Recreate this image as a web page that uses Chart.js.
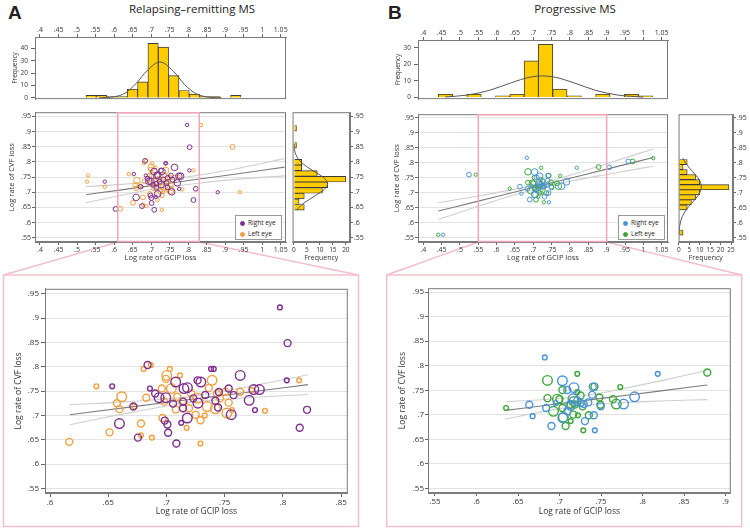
<!DOCTYPE html>
<html>
<head>
<meta charset="utf-8">
<script src="https://cdn.jsdelivr.net/npm/chart.js@4.4.1/dist/chart.umd.min.js"></script>
<style>
  body { margin: 0; background: #fff; }
  #fig { position: relative; width: 750px; height: 532px; overflow: hidden; font-family: 'Open Sans', sans-serif; color: #222; }
  #fig canvas { position: absolute; }
  .lab { position: absolute; white-space: nowrap; }
  .letter { font-family: 'Liberation Sans', Arial, sans-serif; font-weight: bold; font-size: 19px; }
  .ttl { font-size: 11.5px; transform: translateX(-50%); }
  .leg { position: absolute; background: #fff; border: 1px solid #9a9a9a; font-size: 6.5px; line-height: 11px; padding: 1px 0 0 4px; box-sizing: border-box; }
  .leg span { display: inline-block; width: 3px; height: 3px; border-radius: 50%; border: 1px solid; margin-right: 3px; vertical-align: middle; }
</style>
</head>
<body>
<div id="fig">
  <svg width="750" height="532" style="position:absolute;left:0;top:0">
    <g fill="none" stroke="#f4bccb" stroke-width="1.4">
      <rect x="3.5" y="275" width="355" height="251.5"/>
      <rect x="386.7" y="275" width="355" height="251.5"/>
      <line x1="118" y1="242" x2="3.5" y2="275"/>
      <line x1="199.5" y1="242" x2="358.5" y2="275"/>
      <line x1="478.5" y1="242" x2="386.7" y2="275"/>
      <line x1="606.5" y1="242" x2="741.7" y2="275"/>
    </g>
  </svg>
  <div class="lab letter" style="left:8px;top:2px">A</div>
  <div class="lab ttl" style="left:192px;top:1px">Relapsing–remitting MS</div>
  <div class="lab letter" style="left:388px;top:2px">B</div>
  <div class="lab ttl" style="left:575px;top:1px">Progressive MS</div>
</div>
<script>
Chart.defaults.font.family = "'Open Sans', sans-serif";
Chart.defaults.color = '#333';
Chart.defaults.animation = false;
Chart.defaults.events = [];
Chart.defaults.plugins.legend.display = false;
Chart.defaults.plugins.tooltip.enabled = false;

// ---- A: relapsing-remitting MS  [GCIP rate, CVF rate, marker weight]
const rrRightEye = [
  [0.7974,0.9218,1],[0.804,0.8485,2],[0.8033,0.772,1],[0.8144,0.6745,2],[0.8207,0.7114,2],
  [0.776,0.711,1],[0.771,0.731,3],[0.7798,0.753,3],[0.775,0.753,3],[0.7633,0.782,3],
  [0.7556,0.7014,3],[0.7576,0.7417,2],[0.7534,0.7551,2],[0.7443,0.7162,2],[0.7406,0.7954,1],
  [0.7383,0.7954,1],[0.742,0.730,2],[0.7267,0.772,2],[0.7295,0.7686,3],[0.727,0.725,3],
  [0.7179,0.6946,3],[0.715,0.755,3],[0.718,0.757,3],[0.7142,0.7148,2],[0.7145,0.7282,2],
  [0.7127,0.6846,1],[0.7079,0.7686,3],[0.7056,0.7242,2],[0.7014,0.6644,2],[0.7008,0.6812,2],
  [0.7085,0.6422,2],[0.6985,0.6893,2],[0.6994,0.7363,3],[0.6937,0.7363,3],[0.6903,0.745,2],
  [0.6858,0.7551,1],[0.6755,0.6543,2],[0.6838,0.8035,2],[0.6716,0.7182,2],[0.6596,0.6832,3],
  [0.6534,0.7598,1],[0.7333,0.742,2],[0.745,0.748,2],[0.723,0.735,2],[0.88,0.70,1],
  [0.575,0.735,1],[0.604,0.645,2]
];
const rrLeftEye = [
  [0.6165,0.6456,2],[0.6398,0.7598,1],[0.6616,0.7383,3],[0.6574,0.7249,2],[0.6596,0.7128,2],
  [0.6511,0.6651,2],[0.6724,0.7182,1],[0.6781,0.6832,2],[0.6781,0.659,1],[0.6875,0.6543,1],
  [0.6826,0.7363,2],[0.6804,0.7954,1],[0.6866,0.8035,1],[0.696,0.7551,2],[0.698,0.7282,2],
  [0.6966,0.6946,2],[0.7003,0.782,3],[0.7028,0.7954,1],[0.7042,0.7551,3],[0.7116,0.782,1],
  [0.7093,0.7383,2],[0.7173,0.6745,1],[0.7193,0.7148,2],[0.725,0.7014,2],[0.7292,0.69,2],
  [0.7292,0.6422,1],[0.7329,0.70,1],[0.7349,0.7182,3],[0.7392,0.772,3],[0.7363,0.7565,2],
  [0.7434,0.745,2],[0.742,0.7134,3],[0.7505,0.7484,2],[0.7519,0.7047,3],[0.7562,0.711,1],
  [0.7534,0.7262,2],[0.7733,0.7518,1],[0.7846,0.7094,1],[0.8139,0.772,1],[0.7213,0.745,2],
  [0.727,0.735,3],[0.7633,0.7484,2],[0.7136,0.7282,2],[0.6995,0.775,2],[0.708,0.712,2],
  [0.746,0.735,2],[0.53,0.755,1],[0.527,0.735,1],[0.575,0.718,1],[0.835,0.922,1],
  [0.92,0.85,2],[0.94,0.70,1]
];
const rrZoom = [0.61, 0.83];
const rrGcipBins = [0.538,0.5659,0.5938,0.6217,0.6496,0.6775,0.7054,0.7333,0.7612,0.7891,0.817,0.8449,0.8728,0.9007,0.9286];
const rrGcipFreq = [2,2,1,1,7,13,44,41,18,6,3,1,1,0,2];
const rrGcipCurveX = [0.56,0.6,0.63,0.66,0.69,0.724,0.76,0.79,0.82,0.85,0.89];
const rrGcipCurveY = [0.1,0.9,3.9,11.8,22.3,29,21.6,10.9,3.6,0.8,0.1];
const rrCvfBins = [0.6503,0.6689,0.6875,0.7061,0.7247,0.7433,0.7619,0.7805,0.7991,0.8177,0.8363,0.8549,0.8735,0.8921,0.9107];
const rrCvfFreq = [4,2,4,11,13,20,9,3,3,0,0,1,0,0,1];
const rrCvfCurveY = [0.641,0.66,0.69,0.71,0.728,0.75,0.77,0.80,0.83,0.86];
const rrCvfCurveF = [1.1,3.2,8.4,11.8,13,11.2,7.5,2.7,0.5,0.06];
const rrFitX = [0.524,0.62,0.72,0.82,0.94,1.06];
const rrFit = [0.692,0.708,0.725,0.742,0.762,0.783];
const rrFitHi = [0.719,0.726,0.737,0.755,0.780,0.811];
const rrFitLo = [0.665,0.690,0.713,0.729,0.744,0.754];
const rrZoomFitX = [0.617,0.67,0.72,0.77,0.8215];
const rrZoomFit = [0.7014,0.7174,0.7325,0.7476,0.7632];
const rrZoomFitHi = [0.7219,0.7287,0.7385,0.7589,0.7835];
const rrZoomFitLo = [0.6809,0.7061,0.7265,0.7363,0.7429];

// ---- B: progressive MS
const pRightEye = [
  [0.6823,0.8169,1],[0.8183,0.7834,1],[0.7904,0.7366,3],[0.7772,0.7219,3],[0.7497,0.7172,2],
  [0.7413,0.699,2],[0.7425,0.6683,1],[0.7306,0.6871,2],[0.7401,0.7573,2],[0.7393,0.7406,2],
  [0.7346,0.7252,2],[0.7174,0.7553,3],[0.7035,0.7694,3],[0.7094,0.7506,2],[0.7162,0.7326,3],
  [0.7134,0.7192,3],[0.7094,0.7071,2],[0.7039,0.6938,3],[0.6903,0.6771,2],[0.6839,0.7138,2],
  [0.6676,0.6971,1],[0.6636,0.7205,2],[0.6955,0.7239,1],[0.7254,0.7239,2],[0.7214,0.7293,2],
  [0.7292,0.7219,2],[0.4545,0.56,1],[0.5245,0.7606,2],[0.907,0.7846,2],[0.959,0.8044,2]
];
const pLeftEye = [
  [0.6357,0.7138,1],[0.6855,0.77,3],[0.6855,0.7339,2],[0.6975,0.7319,3],[0.6927,0.7071,3],
  [0.7035,0.7506,2],[0.7047,0.6951,3],[0.7074,0.6771,2],[0.7035,0.7138,2],[0.7134,0.6871,1],
  [0.7166,0.7004,2],[0.7214,0.7834,1],[0.7214,0.746,1],[0.7222,0.699,1],[0.7278,0.7172,2],
  [0.7254,0.7393,2],[0.7286,0.6683,1],[0.7353,0.699,2],[0.7421,0.7573,2],[0.7481,0.7352,2],
  [0.7493,0.7205,2],[0.7644,0.7319,2],[0.7684,0.7219,3],[0.7732,0.7566,1],[0.878,0.7861,2],
  [0.7174,0.7272,3],[0.7134,0.7205,2],[0.70,0.7318,2],[0.7186,0.721,2],[0.441,0.56,1],
  [0.543,0.7606,1],[0.971,0.8044,2],[1.027,0.8154,1]
];
const pZoom = [0.55, 0.90];
const pGcipBins = [0.4605,0.4995,0.5385,0.5775,0.6165,0.6555,0.6945,0.7335,0.7725,0.8115,0.8505,0.8895,0.9285,0.9675,1.0065];
const pGcipFreq = [2,0,2,0,1,2,22,32,5,1,0,2,0,2,1];
const pGcipCurveX = [0.46,0.52,0.58,0.64,0.69,0.725,0.76,0.81,0.87,0.93,1.0];
const pGcipCurveY = [0.34,1.5,4.3,8.9,12.2,13,12.2,8.9,4.3,1.5,0.25];
const pCvfBins = [0.5674,0.5842,0.601,0.6178,0.6346,0.6514,0.6682,0.685,0.7018,0.7186,0.7354,0.7522,0.769,0.7858,0.8026];
const pCvfFreq = [2,0,0,0,0,4,6,8,10,24,10,8,4,2,4];
const pCvfCurveY = [0.56,0.59,0.62,0.65,0.68,0.70,0.72,0.74,0.76,0.78,0.80,0.815];
const pCvfCurveF = [0.08,0.4,1.6,4.2,8.0,10.0,10.8,10.0,8.0,5.4,3.2,1.9];
const pFitX = [0.441,0.55,0.65,0.72,0.8,0.9,1.027];
const pFit = [0.639,0.6722,0.7027,0.724,0.7484,0.7789,0.8176];
const pFitHi = [0.667,0.6892,0.7122,0.731,0.7582,0.7966,0.8464];
const pFitLo = [0.611,0.6552,0.6932,0.717,0.7386,0.7612,0.7888];
const pZoomFitX = [0.6353,0.68,0.72,0.76,0.82,0.878];
const pZoomFit = [0.709,0.7185,0.727,0.7355,0.7483,0.7606];
const pZoomFitHi = [0.7268,0.7306,0.7368,0.7476,0.7686,0.7903];
const pZoomFitLo = [0.6912,0.7064,0.7172,0.7234,0.728,0.7309];

const COLORS = { purple: '#7d2e8e', orange: '#f0a03e', blue: '#4a93dc', green: '#3ea63a' };
const MAIN_R = [1.7, 2.4, 3.3];
const ZOOM_R = [2.4, 3.5, 4.8];

const fig = document.getElementById('fig');
const fmt = v => String(+(+v).toFixed(3)).replace(/^0\./, '.');

Chart.register({
  id: 'frame',
  afterDraw(chart, args, opts) {
    const { ctx, chartArea: a } = chart;
    ctx.save();
    ctx.strokeStyle = '#7a7a7a';
    ctx.lineWidth = 1;
    ctx.strokeRect(a.left + 0.5, a.top + 0.5, a.width - 1, a.height - 1);
    if (opts.zoom) {
      const xs = chart.scales.x;
      const x0 = xs.getPixelForValue(opts.zoom[0]), x1 = xs.getPixelForValue(opts.zoom[1]);
      ctx.strokeStyle = '#f3a6b8';
      ctx.lineWidth = 1.5;
      ctx.strokeRect(x0, a.top + 0.5, x1 - x0, a.height - 1);
    }
    ctx.restore();
  }
});

function mount(plot, ext) {
  const cv = document.createElement('canvas');
  cv.width = plot[2] - plot[0] + ext.l + ext.r;
  cv.height = plot[3] - plot[1] + ext.t + ext.b;
  cv.style.left = (plot[0] - ext.l) + 'px';
  cv.style.top = (plot[1] - ext.t) + 'px';
  fig.appendChild(cv);
  return cv;
}

function lin(pos, min, max, step, size, o = {}) {
  const vertical = pos === 'left' || pos === 'right';
  return {
    type: 'linear', position: pos, min, max, offset: false,
    afterFit: s => { if (vertical) s.width = size; else s.height = size; },
    border: { display: true, color: '#7a7a7a', width: 1 },
    grid: { display: true, drawOnChartArea: !!o.grid, color: '#e3e3e3', tickColor: '#666', tickLength: o.tl || 3, offset: false },
    ticks: { stepSize: step, autoSkip: false, includeBounds: false, maxRotation: 0, minRotation: 0,
             padding: o.pad ?? 1, color: '#333', font: { size: o.fs || 7 }, callback: o.fmt || fmt },
    title: { display: !!o.title, text: o.title || '', color: '#333', font: { size: o.ts || 7.5 }, padding: 0 }
  };
}

function bubbles(list, color, radii, bw, range) {
  return {
    type: 'bubble',
    data: list.filter(p => !range || (p[0] >= range[0] && p[0] <= range[1]))
              .map(p => ({ x: p[0], y: p[1], r: radii[p[2] - 1] })),
    borderColor: color, backgroundColor: 'rgba(0,0,0,0)', borderWidth: bw, order: 1
  };
}

function fitLines(xs, mid, hi, lo) {
  const line = (ys, c) => ({
    type: 'line', data: xs.map((x, i) => ({ x, y: ys[i] })), borderColor: c, borderWidth: 1.1,
    pointRadius: 0, cubicInterpolationMode: 'monotone', fill: false, order: 2
  });
  return [line(hi, '#cfcfcf'), line(lo, '#cfcfcf'), line(mid, '#7c7c7c')];
}

function scatter(c) {
  const cv = mount(c.plot, c.ext);
  return new Chart(cv, {
    type: 'bubble',
    data: { datasets: c.sets },
    options: {
      responsive: false,
      layout: { padding: { left: c.padL, top: c.ext.t, right: c.ext.r, bottom: 0 } },
      scales: {
        x: lin('bottom', c.xr[0], c.xr[1], 0.05, c.ext.b, { title: 'Log rate of GCIP loss', fs: c.fs, ts: c.ts, tl: c.tl }),
        y: lin('left', c.yr[0], c.yr[1], 0.05, c.ext.l - c.padL, { title: 'Log rate of CVF loss', grid: true, fs: c.fs, ts: c.ts, tl: c.tl, pad: c.pad })
      },
      plugins: { frame: { zoom: c.zoom } }
    }
  });
}

function topHist(c) {
  const cv = mount(c.plot, c.ext);
  return new Chart(cv, {
    type: 'bar',
    data: { datasets: [
      { type: 'line', data: c.curveX.map((x, i) => ({ x, y: c.curveY[i] })), borderColor: '#555', borderWidth: 1,
        pointRadius: 0, cubicInterpolationMode: 'monotone', fill: false, order: 0 },
      { type: 'bar', data: c.bins.map((x, i) => ({ x, y: c.freq[i] })), backgroundColor: '#ffcc00',
        borderColor: '#3a3a3a', borderWidth: 0.9, barPercentage: 1, categoryPercentage: 1, order: 1 }
    ] },
    options: {
      responsive: false,
      layout: { padding: { left: c.padL, top: 0, right: c.ext.r, bottom: c.ext.b } },
      scales: {
        x: lin('top', c.xr[0], c.xr[1], 0.05, c.ext.t, { pad: 0 }),
        y: lin('left', c.yr[0], c.yr[1], 10, c.ext.l - c.padL, { title: 'Frequency', ts: 6.5, fs: 6.5, tl: 4, pad: 3, fmt: v => v })
      }
    }
  });
}

function sideHist(c) {
  const cv = mount(c.plot, c.ext);
  return new Chart(cv, {
    type: 'bar',
    data: { datasets: [
      { type: 'line', data: c.curveY.map((y, i) => ({ x: c.curveF[i], y })), borderColor: '#555', borderWidth: 1,
        pointRadius: 0, cubicInterpolationMode: 'monotone', fill: false, order: 0 },
      { type: 'bar', data: c.bins.map((y, i) => ({ x: c.freq[i], y })), backgroundColor: '#ffcc00',
        borderColor: '#3a3a3a', borderWidth: 0.9, barPercentage: 1, categoryPercentage: 1, order: 1 }
    ] },
    options: {
      responsive: false,
      indexAxis: 'y',
      layout: { padding: { left: c.ext.l, top: c.ext.t, right: 0, bottom: 0 } },
      scales: {
        x: lin('bottom', c.xr[0], c.xr[1], 5, c.ext.b, { title: 'Frequency', fs: 6.5, ts: 7, fmt: v => v }),
        y: lin('right', c.yr[0], c.yr[1], 0.05, c.ext.r)
      }
    }
  });
}

// ---- panel A
topHist({ plot: [35, 37, 286, 104], ext: { l: 35, t: 16, r: 6, b: 2 }, padL: 11,
  xr: [0.3865, 1.0643], yr: [-0.97, 49.2], bins: rrGcipBins, freq: rrGcipFreq, curveX: rrGcipCurveX, curveY: rrGcipCurveY });
scatter({ plot: [35, 111, 286, 242], ext: { l: 35, t: 4, r: 5, b: 20 }, padL: 7,
  xr: [0.3865, 1.0643], yr: [0.536, 0.964], zoom: rrZoom, fs: 7, ts: 7.5,
  sets: [bubbles(rrRightEye, COLORS.purple, MAIN_R, 1), bubbles(rrLeftEye, COLORS.orange, MAIN_R, 1),
         ...fitLines(rrFitX, rrFit, rrFitHi, rrFitLo)] });
sideHist({ plot: [292, 111, 350, 242], ext: { l: 1, t: 4, r: 22, b: 20 },
  xr: [-0.5, 21.6], yr: [0.536, 0.964], bins: rrCvfBins, freq: rrCvfFreq, curveY: rrCvfCurveY, curveF: rrCvfCurveF });
scatter({ plot: [45, 285, 350, 493], ext: { l: 40, t: 3, r: 4, b: 24 }, padL: 8,
  xr: [0.5957, 0.8557], yr: [0.5405, 0.9601], fs: 8, ts: 8.5, tl: 4, pad: 2,
  sets: [bubbles(rrRightEye, COLORS.purple, ZOOM_R, 1.4, rrZoom), bubbles(rrLeftEye, COLORS.orange, ZOOM_R, 1.4, rrZoom),
         ...fitLines(rrZoomFitX, rrZoomFit, rrZoomFitHi, rrZoomFitLo)] });

// ---- panel B
topHist({ plot: [418, 40, 668, 104], ext: { l: 35, t: 19, r: 6, b: 2 }, padL: 11,
  xr: [0.3856, 1.0672], yr: [-0.94, 34.6], bins: pGcipBins, freq: pGcipFreq, curveX: pGcipCurveX, curveY: pGcipCurveY });
scatter({ plot: [418, 113, 668, 242], ext: { l: 35, t: 4, r: 5, b: 20 }, padL: 9,
  xr: [0.3856, 1.0672], yr: [0.5358, 0.9622], zoom: pZoom, fs: 7, ts: 7.5,
  sets: [bubbles(pRightEye, COLORS.blue, MAIN_R, 1), bubbles(pLeftEye, COLORS.green, MAIN_R, 1),
         ...fitLines(pFitX, pFit, pFitHi, pFitLo)] });
sideHist({ plot: [677, 113, 733, 242], ext: { l: 1, t: 4, r: 16, b: 20 },
  xr: [-0.14, 25.95], yr: [0.5358, 0.9622], bins: pCvfBins, freq: pCvfFreq, curveY: pCvfCurveY, curveF: pCvfCurveF });
scatter({ plot: [428, 285, 733, 493], ext: { l: 40, t: 3, r: 4, b: 24 }, padL: 9,
  xr: [0.5416, 0.9063], yr: [0.5406, 0.958], fs: 8, ts: 8.5, tl: 3, pad: 1,
  sets: [bubbles(pRightEye, COLORS.blue, ZOOM_R, 1.4, pZoom), bubbles(pLeftEye, COLORS.green, ZOOM_R, 1.4, pZoom),
         ...fitLines(pZoomFitX, pZoomFit, pZoomFitHi, pZoomFitLo)] });

// legends inside the main scatters
function legend(left, top, items) {
  const d = document.createElement('div');
  d.className = 'leg';
  d.style.cssText = `left:${left}px;top:${top}px;width:47px;height:25px`;
  d.innerHTML = items.map(([label, color]) => `<div><span style="border-color:${color};background:${color}"></span>${label}</div>`).join('');
  fig.appendChild(d);
}
legend(235, 215, [['Right eye', COLORS.purple], ['Left eye', COLORS.orange]]);
legend(618, 215, [['Right eye', COLORS.blue], ['Left eye', COLORS.green]]);
</script>
</body>
</html>
